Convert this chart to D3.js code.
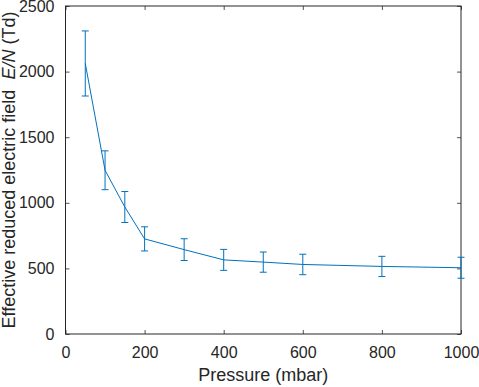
<!DOCTYPE html>
<html>
<head>
<meta charset="utf-8">
<script src="https://cdn.jsdelivr.net/npm/d3@7"></script>
<style>
  body { margin: 0; background: #fff; }
  text { font-family: "Liberation Sans", Arial, sans-serif; fill: #262626; }
</style>
</head>
<body>
<div id="container"></div>
<script>
// pressure (mbar), E/N (Td), error (Td)
const pressure = [50, 100, 150, 200, 300, 400, 500, 600, 800, 1000];
const fieldEN = [2062, 1248, 968, 725, 643, 565, 548, 530, 515, 505];
const errEN = [248, 148, 118, 92, 83, 80, 77, 78, 77, 80];
const xTicks = [0, 200, 400, 600, 800, 1000];
const yTicks = [0, 500, 1000, 1500, 2000, 2500];

const W = 479, H = 387;
const m = { left: 65.5, right: 461, top: 6, bottom: 334 };
const color = '#0072BD';
const fmt = d3.format('d');

const svg = d3.select('#container').append('svg')
  .attr('width', W).attr('height', H);

const x = d3.scaleLinear().domain([0, 1000]).range([m.left, m.right]);
const y = d3.scaleLinear().domain([0, 2500]).range([m.bottom, m.top]);

// axes with inside ticks
const tk = 4;
svg.append('g').attr('transform', `translate(0,${m.bottom})`)
  .call(d3.axisBottom(x).tickValues(xTicks).tickFormat(fmt).tickSizeInner(-tk).tickSizeOuter(0).tickPadding(13))
  .call(g => g.select('.domain').remove());
svg.append('g').attr('transform', `translate(0,${m.top})`)
  .call(d3.axisTop(x).tickValues(xTicks).tickSizeInner(-tk).tickSizeOuter(0).tickFormat(''))
  .call(g => g.select('.domain').remove());
svg.append('g').attr('transform', `translate(${m.left},0)`)
  .call(d3.axisLeft(y).tickValues(yTicks).tickFormat(fmt).tickSizeInner(-tk).tickSizeOuter(0).tickPadding(11))
  .call(g => g.select('.domain').remove());
svg.append('g').attr('transform', `translate(${m.right},0)`)
  .call(d3.axisRight(y).tickValues(yTicks).tickSizeInner(-tk).tickSizeOuter(0).tickFormat(''))
  .call(g => g.select('.domain').remove());

svg.selectAll('.tick line').attr('stroke', '#262626').attr('stroke-width', 0.8);
svg.selectAll('.tick text').style('font-size', '16px').attr('fill', '#262626');

svg.append('rect')
  .attr('x', m.left).attr('y', m.top)
  .attr('width', m.right - m.left).attr('height', m.bottom - m.top)
  .attr('fill', 'none').attr('stroke', '#262626').attr('stroke-width', 1);

// data line
const line = d3.line().x((d, i) => x(pressure[i])).y(d => y(d));
svg.append('path').datum(fieldEN)
  .attr('d', line)
  .attr('fill', 'none').attr('stroke', color).attr('stroke-width', 1);

// error bars
const cap = 3.5;
const eb = svg.append('g').attr('stroke', color).attr('stroke-width', 1).attr('fill', 'none');
pressure.forEach((p, i) => {
  const cx = x(p), lo = y(fieldEN[i] - errEN[i]), hi = y(fieldEN[i] + errEN[i]);
  eb.append('line').attr('x1', cx).attr('x2', cx).attr('y1', lo).attr('y2', hi);
  eb.append('line').attr('x1', cx - cap).attr('x2', cx + cap).attr('y1', lo).attr('y2', lo);
  eb.append('line').attr('x1', cx - cap).attr('x2', cx + cap).attr('y1', hi).attr('y2', hi);
});

// axis labels
svg.append('text')
  .attr('x', (m.left + m.right) / 2).attr('y', 381)
  .attr('text-anchor', 'middle').style('font-size', '18px')
  .text('Pressure (mbar)');

const yl = svg.append('text')
  .attr('transform', `translate(15,${(m.top + m.bottom) / 2}) rotate(-90)`)
  .attr('text-anchor', 'middle').style('font-size', '18px');
yl.append('tspan').text('Effective reduced electric field');
yl.append('tspan').attr('dx', 10).style('font-style', 'italic').text('E/N');
yl.append('tspan').text(' (Td)');
</script>
</body>
</html>
